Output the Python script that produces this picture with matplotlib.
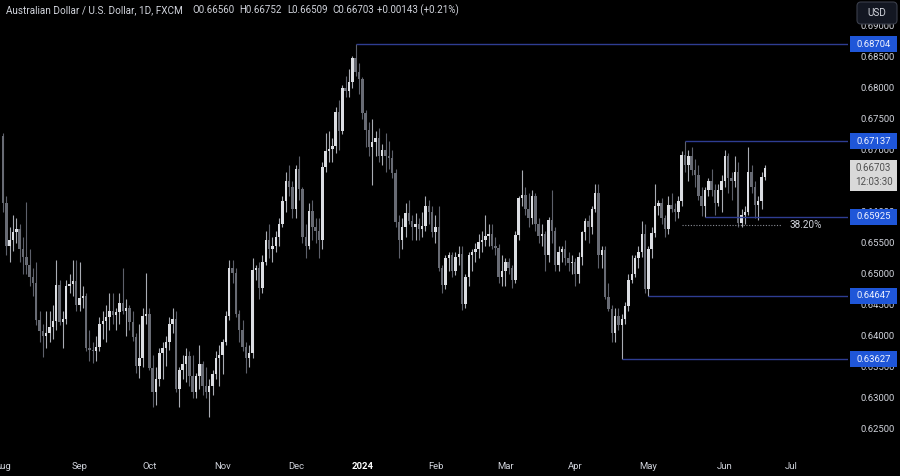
import numpy as np
import pandas as pd
import matplotlib.pyplot as plt
from matplotlib.patches import Rectangle, FancyBboxPatch
from matplotlib.transforms import blended_transform_factory, IdentityTransform

plt.rcParams['font.family'] = ['Roboto', 'DejaVu Sans']

# AUD/USD daily candles (FXCM), Aug 2023 - Jun 2024, one line per month
opens = (
    [.6723, .6614, .6545, .6555, .6568, .6572, .6540, .6528, .6515, .6495, .6485, .6425, .6408, .6400, .6405, .6415, .6424, .6482, .6423, .6428, .6480, .6484, .6488]
    + [.6450, .6462, .6465, .6380, .6378, .6376, .6382, .6420, .6424, .6430, .6440, .6434, .6438, .6453, .6440, .6445, .6422, .6398, .6352, .6365, .6432]
    + [.6435, .6348, .6310, .6330, .6372, .6380, .6390, .6420, .6428, .6315, .6345, .6355, .6368, .6335, .6310, .6335, .6355, .6320, .6310, .6320, .6338, .6365]
    + [.6370, .6390, .6432, .6510, .6502, .6435, .6410, .6382, .6365, .6372, .6506, .6510, .6478, .6520, .6555, .6540, .6545, .6560, .6580, .6618, .6650, .6640]
    + [.6605, .6669, .6637, .6560, .6545, .6602, .6575, .6570, .6555, .6673, .6698, .6702, .6706, .6762, .6730, .6800, .6795, .6810, .6848, .6826]
    + [.6814, .6760, .6732, .6705, .6713, .6720, .6690, .6700, .6690, .6687, .6663, .6584, .6555, .6575, .6598, .6585, .6575, .6580, .6572, .6578, .6610, .6600]
    + [.6568, .6575, .6510, .6482, .6525, .6530, .6505, .6528, .6532, .6452, .6495, .6530, .6535, .6540, .6552, .6555, .6562, .6565, .6545, .6542, .6495]
    + [.6505, .6520, .6510, .6490, .6563, .6622, .6628, .6605, .6590, .6625, .6580, .6562, .6565, .6530, .6587, .6570, .6515, .6535, .6540, .6525, .6518]
    + [.6520, .6500, .6528, .6567, .6585, .6575, .6605, .6630, .6530, .6538, .6463, .6443, .6405, .6432, .6418, .6428, .6448, .6490, .6500, .6525, .6535, .6565]
    + [.6475, .6540, .6566, .6610, .6615, .6590, .6572, .6612, .6605, .6600, .6618, .6692, .6675, .6690, .6668, .6660, .6625, .6610, .6635, .6650, .6635, .6615, .6635]
    + [.6650, .6690, .6655, .6650, .6665, .6582, .6595, .6600, .6665, .6640, .6612, .6618, .66560]
)
highs = (
    [.6727, .6625, .6575, .6595, .6590, .6580, .6560, .6616, .6540, .6510, .6520, .6440, .6420, .6440, .6440, .6450, .6522, .6490, .6440, .6490, .6500, .6522, .6522]
    + [.6520, .6480, .6470, .6410, .6390, .6400, .6430, .6440, .6450, .6470, .6470, .6445, .6470, .6510, .6460, .6450, .6440, .6405, .6420, .6445, .6502]
    + [.6445, .6370, .6350, .6380, .6390, .6400, .6430, .6445, .6440, .6350, .6370, .6380, .6375, .6370, .6340, .6385, .6360, .6350, .6330, .6345, .6375, .6385]
    + [.6395, .6440, .6522, .6522, .6510, .6442, .6425, .6390, .6385, .6525, .6515, .6520, .6530, .6570, .6580, .6560, .6570, .6590, .6625, .6665, .6676, .6650]
    + [.6676, .6690, .6640, .6580, .6615, .6620, .6590, .6590, .6680, .6728, .6730, .6720, .6770, .6780, .6805, .6820, .6830, .6852, .68704, .6840]
    + [.6818, .6765, .6745, .6750, .6730, .6735, .6710, .6728, .6715, .6700, .6670, .6595, .6590, .6615, .6620, .6595, .6598, .6590, .6600, .6625, .6620, .6610]
    + [.6595, .6610, .6515, .6530, .6535, .6535, .6535, .6545, .6545, .6500, .6535, .6540, .6550, .6565, .6570, .6595, .6580, .6580, .6560, .6548, .6530]
    + [.6525, .6525, .6515, .6570, .6625, .6668, .6640, .6630, .6635, .6630, .6590, .6580, .6570, .6592, .6635, .6575, .6545, .6545, .6555, .6535, .6530]
    + [.6525, .6535, .6570, .6590, .6595, .6610, .6645, .6645, .6545, .6545, .6485, .6450, .6445, .6445, .6435, .6455, .6500, .6530, .6530, .6545, .6585, .6580]
    + [.6545, .6575, .6645, .6620, .6622, .6595, .6625, .6630, .6615, .6625, .6698, .67137, .6700, .6705, .6685, .6675, .6640, .6640, .6655, .6670, .6645, .6645, .6660]
    + [.6700, .6695, .6665, .6690, .6680, .6605, .6610, .6705, .6675, .6650, .6625, .6665, .66752]
)
lows = (
    [.6600, .6530, .6520, .6537, .6550, .6520, .6500, .6500, .6480, .6465, .6418, .6390, .6366, .6380, .6390, .6395, .6410, .6418, .6380, .6420, .6470, .6465, .6440]
    + [.6440, .6445, .6375, .6360, .6357, .6360, .6375, .6395, .6390, .6410, .6420, .6410, .6420, .6435, .6400, .6410, .6392, .6340, .6332, .6350, .6420]
    + [.6345, .6286, .6288, .6320, .6330, .6352, .6378, .6405, .6310, .6285, .6330, .6325, .6320, .6300, .6300, .6315, .6305, .6300, .6270, .6305, .6330, .6320]
    + [.6338, .6385, .6425, .6485, .6430, .6390, .6375, .6340, .6350, .6365, .6490, .6460, .6470, .6515, .6525, .6520, .6535, .6545, .6575, .6600, .6625, .6590]
    + [.6590, .6620, .6550, .6525, .6540, .6555, .6550, .6525, .6540, .6665, .6680, .6680, .6695, .6700, .6725, .6785, .6785, .6800, .6820, .6790]
    + [.6750, .6705, .6690, .6644, .6690, .6680, .6675, .6665, .6670, .6655, .6575, .6525, .6540, .6560, .6580, .6555, .6555, .6555, .6560, .6570, .6580, .6560]
    + [.6550, .6505, .6470, .6475, .6505, .6495, .6498, .6515, .6442, .6445, .6480, .6505, .6520, .6525, .6535, .6545, .6545, .6540, .6530, .6485, .6480]
    + [.6480, .6500, .6477, .6485, .6555, .6610, .6595, .6575, .6580, .6570, .6550, .6545, .6505, .6520, .6550, .6505, .6505, .6520, .6515, .6505, .6500]
    + [.6480, .6486, .6515, .6555, .6550, .6565, .6600, .6510, .6510, .6460, .6440, .6390, .6390, .6410, .63627, .6420, .6440, .6485, .6495, .6510, .6528, .6470]
    + [.64647, .6525, .6560, .6595, .6580, .6560, .6565, .6600, .6585, .6590, .6610, .6665, .6650, .6660, .6640, .6620, .6594, .65925, .6625, .6625, .6595, .6610, .6600]
    + [.6640, .6630, .6620, .6640, .6576, .6575, .6580, .6595, .6630, .6590, .6587, .6605, .66509]
)
closes = (
    [.6614, .6545, .6555, .6568, .6572, .6540, .6528, .6515, .6495, .6485, .6425, .6408, .6400, .6405, .6415, .6424, .6482, .6423, .6428, .6480, .6484, .6488, .6450]
    + [.6462, .6465, .6380, .6378, .6376, .6382, .6420, .6424, .6430, .6440, .6434, .6438, .6453, .6440, .6445, .6422, .6398, .6352, .6365, .6432, .6435]
    + [.6348, .6310, .6330, .6372, .6380, .6390, .6420, .6428, .6315, .6345, .6355, .6368, .6335, .6310, .6335, .6355, .6320, .6310, .6320, .6338, .6365, .6370]
    + [.6390, .6432, .6510, .6502, .6435, .6410, .6382, .6365, .6372, .6506, .6510, .6478, .6520, .6555, .6540, .6545, .6560, .6580, .6618, .6650, .6640, .6605]
    + [.6669, .6637, .6560, .6545, .6602, .6575, .6570, .6555, .6673, .6698, .6702, .6706, .6762, .6730, .6800, .6795, .6810, .6848, .6826, .6814]
    + [.6760, .6732, .6705, .6713, .6720, .6690, .6700, .6690, .6687, .6663, .6584, .6555, .6575, .6598, .6585, .6575, .6580, .6572, .6578, .6610, .6600, .6568]
    + [.6575, .6510, .6482, .6525, .6530, .6505, .6528, .6532, .6452, .6495, .6530, .6535, .6540, .6552, .6555, .6562, .6565, .6545, .6542, .6495, .6505]
    + [.6520, .6510, .6490, .6563, .6622, .6628, .6605, .6590, .6625, .6580, .6562, .6565, .6530, .6587, .6570, .6515, .6535, .6540, .6525, .6518, .6520]
    + [.6500, .6528, .6567, .6585, .6575, .6605, .6630, .6530, .6538, .6463, .6443, .6405, .6432, .6418, .6428, .6448, .6490, .6500, .6525, .6535, .6565, .6475]
    + [.6540, .6566, .6610, .6615, .6590, .6572, .6612, .6605, .6600, .6618, .6692, .6675, .6690, .6668, .6660, .6625, .6610, .6635, .6650, .6635, .6615, .6635, .6650]
    + [.6690, .6655, .6650, .6665, .6582, .6595, .6600, .6665, .6640, .6612, .6618, .6656, .66703]
)

# trading days (no bar on Christmas / New Year)
holidays = pd.to_datetime(['2023-12-25', '2024-01-01'])
all_days = pd.bdate_range('2023-08-01', '2024-07-31')
all_days = all_days[~all_days.isin(holidays)]
dates = all_days[:len(closes)]

# horizontal levels: price and the bar where each starts
levels = [0.68704, 0.67137, 0.65925, 0.64647, 0.63627]
level_dates = ['2023-12-28', '2024-05-16', '2024-05-24', '2024-05-01', '2024-04-19']
fib_price = 0.65796
fib_text = '38.20%'
fib_date = '2024-05-15'
fib_bars = 30

last_price = '0.66703'
countdown = '12:03:30'
title = 'Australian Dollar / U.S. Dollar, 1D, FXCM'
ohlc_text = ['O0.66560', 'H0.66752', 'L0.66509', 'C0.66703', '+0.00143 (+0.21%)']

month_names = ['Aug', 'Sep', 'Oct', 'Nov', 'Dec', '2024', 'Feb', 'Mar', 'Apr', 'May', 'Jun', 'Jul']
price_ticks = np.arange(0.625, 0.6901, 0.005)

# ---- figure ----
fg = '#d1d4dc'
fs_small = 6.8
fig = plt.figure(figsize=(9, 4.76), dpi=100, facecolor='black')
ax = fig.add_axes([0, 24 / 476, 848 / 900, 452 / 476])
ax.set_facecolor('black')
for s in ax.spines.values():
    s.set_visible(False)

o = np.array(opens)
h = np.array(highs)
l = np.array(lows)
c = np.array(closes)
x = np.arange(len(c))
up = c >= o

body_col = np.where(up, '#dcdee3', '#686b74')
wick_col = np.where(up, '#a9acb4', '#5d606b')
ax.vlines(x, l, h, colors=wick_col, lw=0.8, zorder=2)
ax.bar(x, np.maximum(np.abs(c - o), 0.00008), bottom=np.minimum(o, c),
       width=0.74, color=body_col, linewidth=0, zorder=3)

x_right = 254.0
ax.set_xlim(-0.9, x_right)
ax.set_ylim(0.62129, 0.69419)

# month labels
firsts = all_days.to_series().groupby([all_days.year, all_days.month]).first()
tick_pos = [all_days.get_loc(d) for d in firsts.values[:len(month_names)]]
ax.set_xticks(tick_pos)
ax.set_xticklabels(month_names)
ax.tick_params(axis='x', length=0, pad=7, labelsize=fs_small, labelcolor=fg)
for lab in ax.get_xticklabels():
    if lab.get_text() == '2024':
        lab.set_fontweight('bold')
        lab.set_color('white')

# price axis on the right
ax.yaxis.tick_right()
ax.set_yticks(price_ticks)
ax.set_yticklabels([f'{v:.5f}' for v in price_ticks])
ax.tick_params(axis='y', length=0, pad=9, labelsize=fs_small, labelcolor=fg)

tr = blended_transform_factory(ax.transAxes, ax.transData)
px = (0.69419 - 0.62129) / 452  # price per pixel

for lv, d in zip(levels, level_dates):
    start = dates.get_loc(pd.Timestamp(d))
    ax.hlines(lv, start, x_right, color='#2e3d92', lw=1, zorder=4)
    ax.add_patch(Rectangle((1 + 2 / 848, lv - 8 * px), 47 / 848, 16 * px, transform=tr,
                           facecolor='#1f56d8', edgecolor='none', clip_on=False, zorder=6))
    ax.text(1 + 25.5 / 848, lv, f'{lv:.5f}', transform=tr, ha='center', va='center',
            color='#f0f3ff', fontsize=fs_small, zorder=7, clip_on=False)

# fib 38.2% line
fs = dates.get_loc(pd.Timestamp(fib_date))
ax.hlines(fib_price, fs, fs + fib_bars, color='#8a8d96', lw=0.8, linestyles=(0, (1, 1.5)), zorder=4)
ax.text(fs + fib_bars + 2.5, fib_price, fib_text, ha='left', va='center', color=fg,
        fontsize=fs_small + 0.4, zorder=5)

# last price box
lp = float(last_price)
ax.add_patch(Rectangle((1 + 2 / 848, lp - 23 * px), 47 / 848, 31 * px, transform=tr,
                       facecolor='#d9d9d9', edgecolor='none', clip_on=False, zorder=6))
ax.text(1 + 25.5 / 848, lp, last_price, transform=tr, ha='center', va='center',
        color='#505050', fontsize=fs_small + 0.2, zorder=7, clip_on=False)
ax.text(1 + 25.5 / 848, lp - 13.5 * px, countdown, transform=tr, ha='center', va='center',
        color='#505050', fontsize=fs_small + 0.2, zorder=7, clip_on=False)

# USD box
fig.add_artist(FancyBboxPatch((857, 476 - 24), 40, 22, boxstyle='round,pad=0,rounding_size=4',
                              transform=IdentityTransform(), facecolor='#131722',
                              edgecolor='#3a3e4a', lw=0.8, zorder=10))
fig.text(877 / 900, 1 - 13 / 476, 'USD', ha='center', va='center', color=fg,
         fontsize=fs_small + 0.4, zorder=11)

# header
fig.text(6 / 900, 1 - 10 / 476, title, ha='left', va='center', color=fg, fontsize=7.2)
for t, xp in zip(ohlc_text, [192, 239, 287, 332, 377]):
    fig.text(xp / 900, 1 - 10 / 476, t, ha='left', va='center', color=fg, fontsize=7.0)

fig.savefig('out.png', dpi=100, facecolor='black')
